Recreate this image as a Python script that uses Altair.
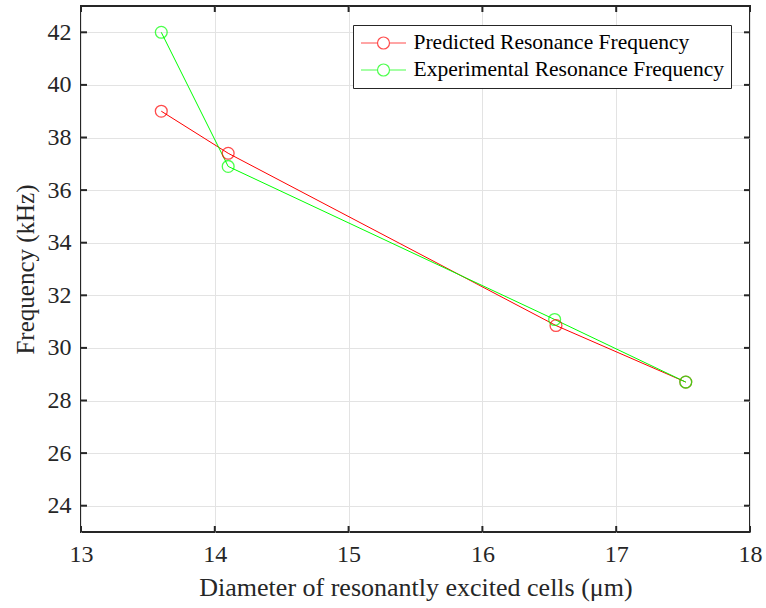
import altair as alt
import pandas as pd

diameters_pred = [13.6, 14.1, 16.55, 17.52]
freq_pred = [39.0, 37.4, 30.85, 28.7]
diameters_exp = [13.6, 14.1, 16.54, 17.52]
freq_exp = [42.0, 36.9, 31.08, 28.7]
series = ["Predicted Resonance Frequency", "Experimental Resonance Frequency"]
colors = ["#ff0000", "#00ff00"]
x_ticks = [13, 14, 15, 16, 17, 18]
y_ticks = [24, 26, 28, 30, 32, 34, 36, 38, 40, 42]

df = pd.DataFrame({
    "d": diameters_pred + diameters_exp,
    "f": freq_pred + freq_exp,
    "s": [series[0]] * len(freq_pred) + [series[1]] * len(freq_exp),
    "o": list(range(len(freq_pred))) + list(range(len(freq_exp))),
})
xt = pd.DataFrame({"v": x_ticks})
yt = pd.DataFrame({"v": y_ticks})

W, H = 669, 526
FONT = "Liberation Serif"

xscale = alt.Scale(domain=[13, 18], nice=False, zero=False)
yscale = alt.Scale(domain=[23, 43], nice=False, zero=False)

# legend glyph: line with open circle, unit = 10 px (symbolSize 400)
r = 0.6
legend_path = (f"M-2.25,0L-{r},0M{r},0L2.25,0M-{r},0A{r},{r} 0 1,0 {r},0"
               f"A{r},{r} 0 1,0 -{r},0Z")

color = alt.Color(
    "s:N",
    scale=alt.Scale(domain=series, range=colors),
    legend=alt.Legend(
        title=None, orient="none", legendX=272, legendY=19,
        symbolType=legend_path, symbolSize=400, symbolStrokeWidth=1.2,
        symbolFillColor="white", symbolOffset=12.5, labelOffset=19,
        labelFont=FONT, labelFontSize=21.5,
        labelColor="#000000", padding=7, rowPadding=5,
        strokeColor="#262626", fillColor="white", labelLimit=400,
    ),
)

common = dict(grid=True, gridColor="#e3e3e3", domain=False, ticks=False, tickSize=0,
              labelFont=FONT, labelFontSize=24, labelColor="#262626", labelFlush=False,
              labelOverlap=False,
              titleFont=FONT, titleFontWeight="normal", titleColor="#262626")
x_axis = alt.Axis(values=x_ticks, format="d", title="Diameter of resonantly excited cells (μm)",
                  labelPadding=10, titlePadding=8, titleFontSize=26, **common)
y_axis = alt.Axis(values=y_ticks, format="d", title="Frequency (kHz)",
                  labelPadding=10, titlePadding=9, titleFontSize=25, **common)

tick_color = "#262626"
tb = alt.Chart(xt).mark_rule(color=tick_color, strokeWidth=2).encode(
    x=alt.X("v:Q", scale=xscale, axis=x_axis), y=alt.value(H), y2=alt.value(H - 6))
tt = alt.Chart(xt).mark_rule(color=tick_color, strokeWidth=2).encode(
    x=alt.X("v:Q", scale=xscale, axis=x_axis), y=alt.value(0), y2=alt.value(6))
tl = alt.Chart(yt).mark_rule(color=tick_color, strokeWidth=2).encode(
    y=alt.Y("v:Q", scale=yscale, axis=y_axis), x=alt.value(0), x2=alt.value(6))
tr = alt.Chart(yt).mark_rule(color=tick_color, strokeWidth=2).encode(
    y=alt.Y("v:Q", scale=yscale, axis=y_axis), x=alt.value(W), x2=alt.value(W - 6))

lines = alt.Chart(df).mark_line(strokeWidth=1).encode(
    x=alt.X("d:Q", scale=xscale, axis=x_axis), y=alt.Y("f:Q", scale=yscale, axis=y_axis),
    color=color, order="o:Q", detail="s:N")
points = alt.Chart(df).mark_point(shape="circle", filled=False, size=140, strokeWidth=1.3).encode(
    x=alt.X("d:Q", scale=xscale, axis=x_axis), y=alt.Y("f:Q", scale=yscale, axis=y_axis),
    color=color)

chart = alt.layer(tb, tt, tl, tr, lines, points).properties(
    width=W, height=H,
    autosize=alt.AutoSizeParams(type="none"),
    padding={"left": 81, "top": 6, "right": 16, "bottom": 76},
    background="white",
).configure(
    view={"stroke": "#262626", "strokeWidth": 2},
    axis={"labelFont": FONT, "labelFontSize": 24, "labelFlush": False, "tickSize": 0},
    style={"guide-label": {"font": FONT, "fontSize": 24}},
)

chart.save("out.html", embed_options={"renderer": "svg", "actions": False})
